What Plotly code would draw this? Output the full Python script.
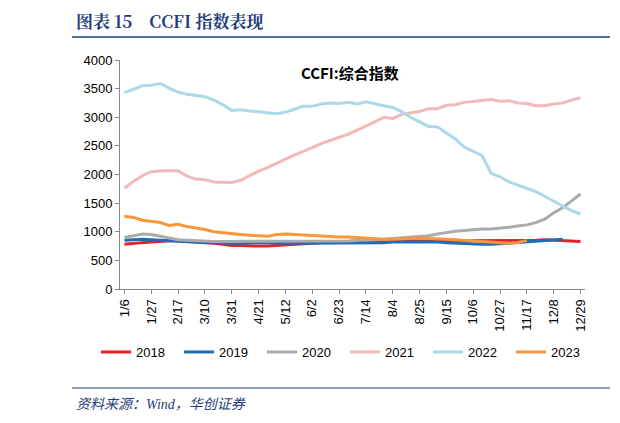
import plotly.graph_objects as go
import datetime

dates = []
d0 = datetime.date(2023, 1, 6)
for i in range(52):
    d = d0 + datetime.timedelta(days=7 * i)
    dates.append(f"{d.month}/{d.day}")

s2018 = [780,800,810,820,830,840,850,840,830,820,800,780,760,760,750,750,750,760,770,790,800,810,810,820,830,830,830,820,830,830,830,840,840,840,840,850,850,850,850,850,840,840,840,840,850,850,850,860,850,850,840,830]
s2019 = [850,860,870,860,850,840,840,830,820,810,810,800,800,800,810,810,810,800,800,800,800,810,810,810,810,800,800,810,810,810,820,820,820,830,830,820,810,800,790,780,780,780,790,800,810,820,830,840,850,870,None,None]
s2020 = [900,930,960,950,920,880,860,850,840,830,830,830,830,830,830,830,830,830,830,830,830,830,840,840,840,840,850,850,860,870,880,890,900,910,930,960,990,1010,1020,1040,1050,1050,1060,1080,1100,1120,1160,1220,1330,1420,1540,1660]
s2021 = [1760,1880,1980,2050,2060,2070,2060,1970,1920,1910,1870,1870,1860,1900,1980,2060,2120,2200,2270,2340,2400,2470,2540,2600,2650,2700,2770,2840,2920,3000,2980,3050,3080,3100,3150,3150,3210,3220,3260,3280,3290,3310,3280,3290,3250,3240,3200,3200,3230,3250,3300,3340]
s2022 = [3430,3490,3550,3560,3590,3510,3440,3400,3380,3360,3300,3220,3120,3130,3110,3100,3080,3060,3090,3140,3190,3190,3230,3250,3240,3260,3230,3270,3230,3200,3170,3100,3000,2920,2840,2830,2720,2620,2480,2410,2330,2020,1960,1870,1810,1760,1700,1620,1530,1450,1370,1310]
s2023 = [1270,1250,1200,1180,1160,1110,1130,1090,1070,1040,1000,980,960,950,940,930,920,950,960,950,940,930,920,920,910,910,900,880,870,870,870,880,890,890,880,880,870,860,850,840,830,820,810,800,810,850]

series = [("2018", s2018, "#e8202a"), ("2019", s2019, "#1f6db5"), ("2020", s2020, "#ababab"),
          ("2021", s2021, "#f2b9b9"), ("2022", s2022, "#acd9e8"), ("2023", s2023, "#f7963a")]

fig = go.Figure()
for name, ys, c in series:
    fig.add_trace(go.Scatter(x=dates[:len(ys)], y=ys, name=name, mode="lines",
                             line=dict(color=c, width=3), connectgaps=False))

PW, PH = 465, 229
fig.update_layout(
    width=620, height=423, paper_bgcolor="white", plot_bgcolor="white",
    margin=dict(l=112, r=43, t=52, b=142, autoexpand=False),
    font=dict(family="Arial, Liberation Sans", size=13, color="black"),
    xaxis=dict(type="category", categoryorder="array", categoryarray=dates,
               tickvals=dates[::3], tickangle=-90, showline=True, linecolor="#888",
               ticks="outside", ticklen=4, tickcolor="#888", showgrid=False,
               tickfont=dict(size=13), range=[-0.5, 51.5]),
    yaxis=dict(range=[0, 4000], dtick=500, showline=True, linecolor="#888",
               ticks="outside", ticklen=4, tickcolor="#888", showgrid=False,
               tickfont=dict(size=13)),
    legend=dict(orientation="h", x=-24 / PW, xanchor="left", y=-63 / PH, yanchor="middle",
                font=dict(size=13), entrywidth=38, entrywidthmode="pixels", tracegroupgap=0),
    showlegend=True,
)
fig.add_annotation(text="<b>CCFI:综合指数</b>", xref="paper", yref="paper", x=(350 - 120) / PW, y=1.0,
                   yanchor="top", showarrow=False, font=dict(size=15, family="Noto Sans CJK SC"))
fig.add_annotation(text="<b>图表 15    CCFI 指数表现</b>", xref="paper", yref="paper",
                   x=-46 / PW, y=1 + 40 / PH, xanchor="left", yanchor="middle", showarrow=False,
                   font=dict(size=17, color="#1f3d7a", family="Noto Serif CJK SC, Liberation Serif, serif"))
fig.add_annotation(text="<i>资料来源：Wind，华创证券</i>", xref="paper", yref="paper",
                   x=-46 / PW, y=-116 / PH, xanchor="left", yanchor="middle", showarrow=False,
                   font=dict(size=14, color="#1f3d7a", family="Liberation Serif, Noto Sans CJK SC"))
fig.add_shape(type="line", xref="paper", yref="paper", x0=-48 / PW, x1=490 / PW,
              y0=1 + 23 / PH, y1=1 + 23 / PH, line=dict(color="#1f3d7a", width=1.5))
fig.add_shape(type="line", xref="paper", yref="paper", x0=-48 / PW, x1=490 / PW,
              y0=-99 / PH, y1=-99 / PH, line=dict(color="#1f3d7a", width=1))
fig.write_html("out.html")
